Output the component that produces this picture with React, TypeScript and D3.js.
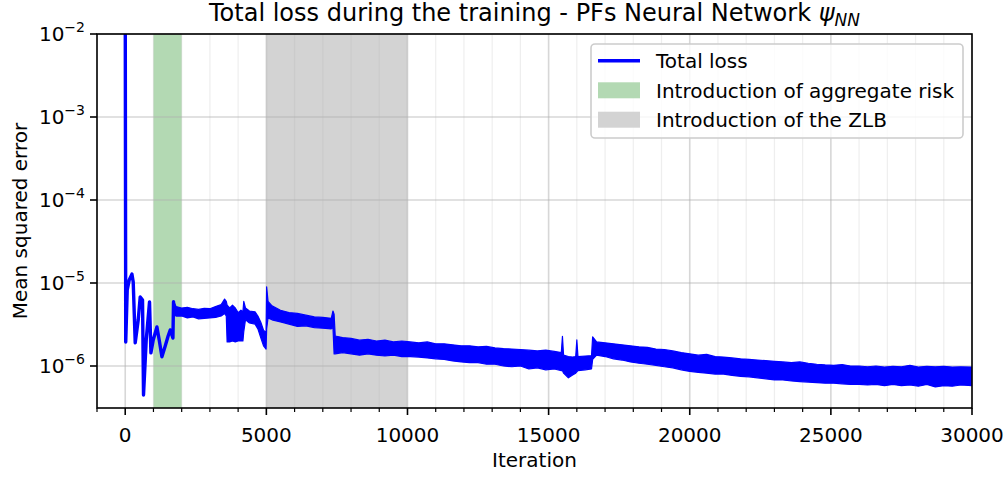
import React from "react";
import * as d3 from "d3";

// ---- data ----
const earlyIter = [0, 18, 71, 142, 237, 283, 354, 460, 531, 613, 648, 744, 861, 910, 992, 1123, 1204, 1300, 1417, 1520, 1594, 1690, 1711];
const earlyLoss = [3e-2, 1.95e-6, 8.24e-6, 1.09e-5, 1.28e-5, 1.03e-5, 1.9e-6, 3.58e-6, 6.8e-6, 6.24e-6, 4.48e-7, 2.06e-6, 5.9e-6, 1.44e-6, 2.06e-6, 2.95e-6, 2.06e-6, 1.29e-6, 1.74e-6, 2.3e-6, 2.72e-6, 2.17e-6, 5.96e-6];

// noisy band: upper / lower envelope (units of 1e-6)
const bandIter = [1720, 1800, 2000, 2200, 2400, 2600, 2800, 3000, 3200, 3400, 3520, 3580, 3610, 3700, 3800, 3900, 4000, 4100, 4170, 4200, 4260, 4400, 4600, 4700, 4800, 4900, 4990, 5010, 5060, 5200, 5500, 5800, 6100, 6400, 6700, 7000, 7300, 7360, 7400, 7440, 7700, 8000, 8300, 8600, 8900, 9200, 9500, 9800, 10100, 10400, 10700, 11000, 11300, 11600, 11900, 12200, 12500, 12800, 13100, 13400, 13700, 14000, 14300, 14600, 14900, 15200, 15450, 15490, 15530, 15700, 15850, 15960, 16000, 16040, 16300, 16520, 16560, 16700, 17000, 17300, 17600, 17900, 18200, 18500, 18800, 19100, 19400, 19700, 20000, 20300, 20600, 20900, 21200, 21500, 21800, 22100, 22400, 22700, 23000, 23300, 23600, 23900, 24200, 24500, 24800, 25100, 25400, 25700, 26000, 26300, 26600, 26900, 27200, 27500, 27800, 28100, 28400, 28700, 29000, 29300, 29600, 30000];
const bandHi = [6.0, 5.2, 5.0, 5.1, 4.9, 4.8, 4.95, 4.9, 5.2, 5.5, 6.4, 6.0, 5.4, 5.0, 5.4, 5.0, 4.4, 4.7, 4.5, 6.0, 5.0, 4.6, 4.5, 4.0, 3.4, 2.7, 2.5, 9.0, 6.0, 5.3, 4.7, 4.4, 4.3, 4.1, 3.9, 3.85, 3.75, 4.6, 4.2, 2.3, 2.2, 2.15, 2.05, 2.1, 2.0, 2.05, 1.95, 2.0, 1.95, 1.9, 1.95, 1.85, 1.85, 1.8, 1.75, 1.75, 1.7, 1.72, 1.65, 1.62, 1.6, 1.58, 1.55, 1.52, 1.55, 1.5, 1.45, 2.28, 1.35, 1.3, 1.28, 1.3, 2.06, 1.3, 1.32, 1.33, 2.25, 1.95, 1.9, 1.85, 1.8, 1.75, 1.7, 1.68, 1.6, 1.58, 1.52, 1.45, 1.4, 1.35, 1.38, 1.3, 1.28, 1.25, 1.22, 1.2, 1.18, 1.16, 1.14, 1.12, 1.1, 1.12, 1.08, 1.05, 1.03, 1.02, 1.04, 1.0, 1.0, 0.98, 1.0, 0.97, 0.99, 0.98, 1.02, 0.97, 0.99, 0.98, 0.99, 0.97, 0.98, 0.97];
const bandLo = [4.2, 4.0, 4.0, 3.8, 3.9, 3.7, 3.75, 3.8, 3.85, 4.0, 4.3, 4.0, 1.95, 1.95, 2.0, 1.95, 2.0, 2.0, 2.0, 2.6, 3.6, 3.3, 3.2, 2.8, 2.2, 1.75, 1.6, 2.8, 3.8, 3.6, 3.4, 3.2, 3.0, 3.05, 2.9, 2.85, 2.8, 2.9, 1.4, 1.4, 1.45, 1.4, 1.35, 1.4, 1.35, 1.32, 1.35, 1.3, 1.3, 1.28, 1.25, 1.22, 1.2, 1.15, 1.12, 1.1, 1.1, 1.05, 1.05, 1.0, 0.98, 1.0, 0.92, 0.95, 0.9, 0.92, 0.88, 0.88, 0.82, 0.72, 0.78, 0.82, 0.85, 0.88, 0.9, 0.92, 1.2, 1.35, 1.3, 1.22, 1.18, 1.12, 1.08, 1.05, 1.02, 0.98, 0.95, 0.9, 0.86, 0.84, 0.82, 0.8, 0.8, 0.77, 0.75, 0.74, 0.72, 0.7, 0.68, 0.68, 0.66, 0.65, 0.64, 0.63, 0.62, 0.62, 0.61, 0.6, 0.6, 0.59, 0.6, 0.58, 0.6, 0.58, 0.59, 0.57, 0.6, 0.56, 0.58, 0.57, 0.59, 0.58];

const spans = [
  { label: "Introduction of aggregate risk", start: 1000, end: 2000, color: "#b3d9b3" },
  { label: "Introduction of the ZLB", start: 5000, end: 10000, color: "#d3d3d3" },
];
const xTicks = [0, 5000, 10000, 15000, 20000, 25000, 30000];
const yTickExps = [-6, -5, -4, -3, -2];

const FONT = "'DejaVu Sans', sans-serif";

export default function App() {
  const L = 97, R = 972, T = 34, B = 408;
  const x = d3.scaleLinear().domain([-1000, 30000]).range([L, R]);
  const y = d3.scaleLog().domain([Math.pow(10, -6.506), 1e-2]).range([B, T]);

  const minorX = d3.range(-1000, 30001, 1000).filter((v) => v % 5000 !== 0);

  const earlyPts = earlyIter.map((it, i) => [it, earlyLoss[i]] as [number, number]);
  earlyPts.push([bandIter[0], (bandHi[0] + bandLo[0]) * 0.5e-6]);
  const linePath = d3.line<[number, number]>().x((d) => x(d[0])).y((d) => y(d[1]))(earlyPts) || "";

  const bandPts = bandIter.map((it, i) => ({ it, hi: bandHi[i] * 1e-6, lo: bandLo[i] * 1e-6 }));
  const areaPath = d3.area<{ it: number; hi: number; lo: number }>()
    .x((d) => x(d.it)).y0((d) => y(d.lo)).y1((d) => y(d.hi))(bandPts) || "";

  const blue = "#0000ff";

  return (
    <svg width={1005} height={477} style={{ display: "block", position: "absolute", left: 0, top: 0 }} fontFamily={FONT}>
      <defs>
        <clipPath id="plotclip">
          <rect x={L} y={T} width={R - L} height={B - T} />
        </clipPath>
      </defs>
      <rect x={0} y={0} width={1005} height={477} fill="white" />
      {/* spans */}
      {spans.map((s) => (
        <rect key={s.label} x={x(s.start)} y={T} width={x(s.end) - x(s.start)} height={B - T} fill={s.color} />
      ))}
      {/* grid */}
      {minorX.map((v) => (
        <line key={"mx" + v} x1={x(v)} x2={x(v)} y1={T} y2={B} stroke="#b0b0b0" strokeOpacity={0.22} strokeWidth={1.2} />
      ))}
      {xTicks.map((v) => (
        <line key={"gx" + v} x1={x(v)} x2={x(v)} y1={T} y2={B} stroke="#b0b0b0" strokeOpacity={0.5} strokeWidth={1.6} />
      ))}
      {yTickExps.map((e) => (
        <line key={"gy" + e} x1={L} x2={R} y1={y(Math.pow(10, e))} y2={y(Math.pow(10, e))} stroke="#b0b0b0" strokeOpacity={0.5} strokeWidth={1.6} />
      ))}
      {/* data */}
      <g clipPath="url(#plotclip)">
        <path d={areaPath} fill={blue} stroke={blue} strokeWidth={1.2} strokeLinejoin="round" />
        <path d={linePath} fill="none" stroke={blue} strokeWidth={3.4} strokeLinejoin="round" />
      </g>
      {/* spines */}
      <rect x={L} y={T} width={R - L} height={B - T} fill="none" stroke="black" strokeWidth={1.6} />
      {/* x ticks */}
      {xTicks.map((v) => (
        <g key={"xt" + v}>
          <line x1={x(v)} x2={x(v)} y1={B} y2={B + 7} stroke="black" strokeWidth={1.6} />
          <text x={x(v)} y={B + 34} fontSize={20} textAnchor="middle" fill="black">{v}</text>
        </g>
      ))}
      {minorX.map((v) => (
        <line key={"xm" + v} x1={x(v)} x2={x(v)} y1={B} y2={B + 4} stroke="black" strokeWidth={1.2} />
      ))}
      {/* y ticks */}
      {yTickExps.map((e) => {
        const yy = y(Math.pow(10, e));
        return (
          <g key={"yt" + e}>
            <line x1={L - 7} x2={L} y1={yy} y2={yy} stroke="black" strokeWidth={1.6} />
            <text x={L - 12} y={yy + 7} fontSize={20} textAnchor="end" fill="black">
              10<tspan dy={-9} fontSize={14}>{"\u2212" + Math.abs(e)}</tspan>
            </text>
          </g>
        );
      })}
      {/* axis labels */}
      <text x={(L + R) / 2} y={467} fontSize={20} textAnchor="middle" fill="black">Iteration</text>
      <text transform={`translate(27, ${(T + B) / 2}) rotate(-90)`} fontSize={20} textAnchor="middle" fill="black">Mean squared error</text>
      {/* title */}
      <text x={(L + R) / 2} y={21} fontSize={24} textAnchor="middle" fill="black">
        Total loss during the training - PFs Neural Network <tspan fontStyle="italic">ψ</tspan>
        <tspan fontStyle="italic" fontSize={17} dy={5}>NN</tspan>
      </text>
      {/* legend */}
      <g>
        <rect x={591} y={44} width={372} height={94} rx={4} fill="white" fillOpacity={0.8} stroke="#cccccc" strokeWidth={1.6} />
        <line x1={598} x2={640} y1={60.7} y2={60.7} stroke={blue} strokeWidth={3.4} />
        <text x={656} y={68} fontSize={20} fill="black">Total loss</text>
        {spans.map((s, i) => (
          <g key={"lg" + i}>
            <rect x={598} y={82.3 + i * 29.4} width={42} height={16} fill={s.color} />
            <text x={656} y={97.6 + i * 29.4} fontSize={20} fill="black">{s.label}</text>
          </g>
        ))}
      </g>
    </svg>
  );
}
